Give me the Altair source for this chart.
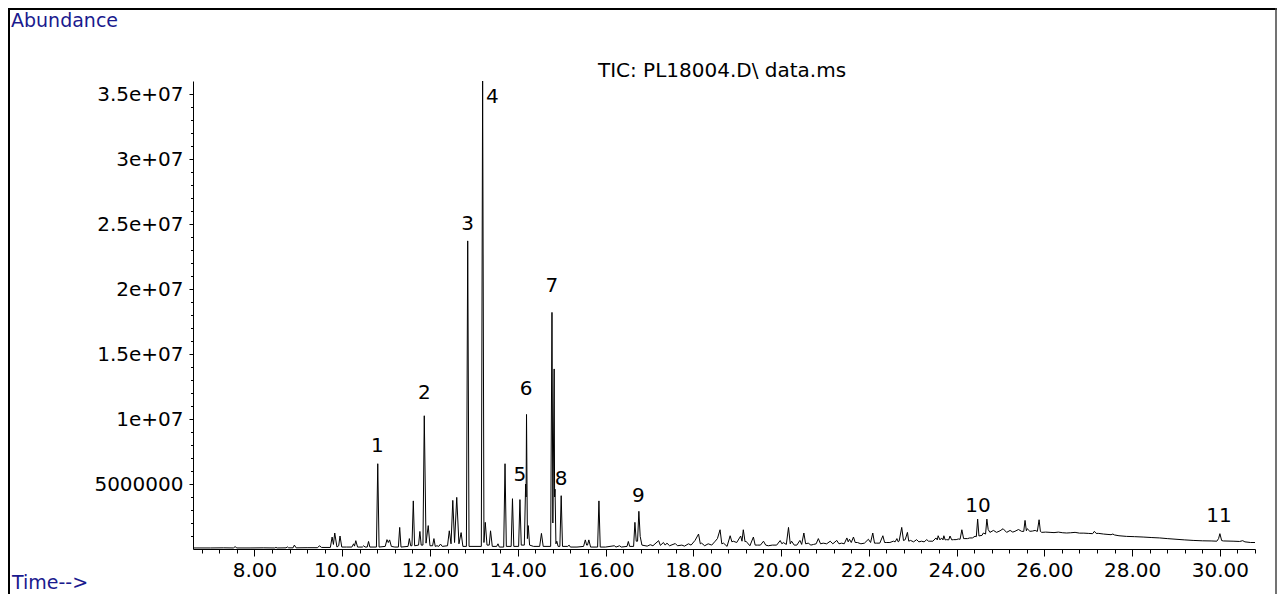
import altair as alt
import pandas as pd

FONT = "DejaVu Sans"
NAVY = "#1a1a8e"

# Retention time (min) and abundance (millions of counts)
time = [
    6.60, 7.00, 7.30, 7.52, 7.56, 7.60, 7.90, 8.20, 8.46, 8.49, 8.52, 8.72, 8.75, 8.78, 8.88, 8.91, 8.95, 9.20, 9.44, 9.48, 9.53, 9.73,
    9.77, 9.80, 9.83, 9.88, 9.92, 9.95, 9.99, 10.10, 10.22, 10.26, 10.28, 10.31, 10.35, 10.46, 10.49, 10.52, 10.57, 10.60, 10.63,
    10.78, 10.81, 10.84, 10.98, 11.02, 11.05, 11.08, 11.12, 11.20, 11.28, 11.31, 11.34, 11.50, 11.53, 11.56, 11.59, 11.62, 11.65,
    11.74, 11.77, 11.80, 11.84, 11.87, 11.91, 11.96, 12.00, 12.06, 12.09, 12.12, 12.16, 12.20, 12.24, 12.28, 12.40, 12.44, 12.48,
    12.52, 12.56, 12.61, 12.66, 12.71, 12.75, 12.83, 12.86, 12.89, 13.17, 13.20, 13.23, 13.26, 13.30, 13.35, 13.38, 13.42, 13.52,
    13.55, 13.58, 13.68, 13.71, 13.74, 13.85, 13.88, 13.91, 14.02, 14.05, 14.08, 14.15, 14.18, 14.19, 14.20, 14.22, 14.24, 14.27,
    14.36, 14.50, 14.54, 14.58, 14.75, 14.78, 14.80, 14.83, 14.84, 14.85, 14.87, 14.89, 14.92, 14.96, 14.99, 15.02, 15.14, 15.17,
    15.20, 15.35, 15.50, 15.54, 15.57, 15.59, 15.62, 15.66, 15.82, 15.85, 15.88, 16.00, 16.20, 16.24, 16.32, 16.36, 16.49, 16.52,
    16.55, 16.64, 16.67, 16.70, 16.73, 16.76, 16.79, 16.83,
    16.95, 17.02, 17.08, 17.21, 17.25, 17.32, 17.36, 17.40, 17.46, 17.59, 17.64, 17.74, 17.80, 17.89, 17.95, 18.04, 18.12, 18.16,
    18.19, 18.26, 18.34, 18.42, 18.50, 18.55, 18.61, 18.65, 18.69, 18.77, 18.84, 18.88, 18.91, 18.99, 19.08, 19.11, 19.14, 19.18,
    19.20, 19.29, 19.37, 19.41, 19.46, 19.53, 19.60, 19.65, 19.71, 19.80, 19.90, 19.98, 20.02, 20.05, 20.12, 20.17, 20.21, 20.24,
    20.30, 20.36, 20.43, 20.47, 20.52, 20.56, 20.62, 20.68, 20.74, 20.80, 20.85, 20.90, 20.96, 21.04, 21.12, 21.18, 21.27, 21.32,
    21.38, 21.44, 21.50, 21.53, 21.56, 21.60, 21.65, 21.69, 21.74, 21.82, 21.90,
    21.99, 22.04, 22.09, 22.13, 22.18, 22.25, 22.32, 22.36, 22.41, 22.48, 22.56, 22.60, 22.64, 22.67, 22.69, 22.75, 22.79, 22.83,
    22.88, 22.91, 22.95, 23.02, 23.09, 23.14, 23.20, 23.26, 23.32, 23.36, 23.39, 23.46, 23.53, 23.56, 23.58, 23.62, 23.66, 23.69,
    23.71, 23.74, 23.77, 23.82, 23.85, 23.89, 23.93, 23.99, 24.04, 24.08, 24.12, 24.16, 24.19, 24.25, 24.30, 24.36, 24.42, 24.45,
    24.48, 24.51, 24.53, 24.58, 24.61, 24.66, 24.69, 24.72, 24.76, 24.84, 24.91, 24.99, 25.06, 25.14, 25.22, 25.28, 25.33, 25.41,
    25.48, 25.53, 25.56, 25.59, 25.61, 25.67, 25.73, 25.79, 25.84, 25.88, 25.91, 25.94, 26.03, 26.13, 26.22, 26.32, 26.42, 26.51,
    26.60, 26.70, 26.80, 26.90, 27.00, 27.10, 27.14, 27.18, 27.24, 27.35, 27.45, 27.52, 27.56, 27.60, 27.70, 27.87, 28.05, 28.25,
    28.45, 28.63, 28.80, 29.00, 29.20, 29.39, 29.60, 29.80, 29.93, 29.97, 30.00, 30.04, 30.08, 30.30, 30.45, 30.52, 30.57, 30.70,
    30.80,
]
abundance_millions = [
    0.08, 0.08, 0.09, 0.08, 0.18, 0.08, 0.08, 0.09, 0.08, 0.12, 0.08, 0.09, 0.16, 0.09, 0.09, 0.30, 0.09, 0.10, 0.10, 0.25, 0.12, 0.12,
    0.92, 0.35, 1.23, 0.15, 0.25, 1.00, 0.15, 0.15, 0.15, 0.40, 0.22, 0.64, 0.15, 0.15, 0.25, 0.15, 0.15, 0.58, 0.15,
    0.15, 6.56, 0.15, 0.20, 0.72, 0.50, 0.70, 0.20, 0.15, 0.15, 1.66, 0.15, 0.20, 0.80, 0.25, 0.25, 3.70, 0.25,
    0.30, 1.35, 0.30, 0.30, 10.25, 0.45, 1.80, 0.25, 0.25, 0.80, 0.20, 0.25, 0.20, 0.38, 0.20, 0.25, 1.40, 0.40,
    3.74, 0.50, 3.97, 0.40, 1.26, 0.20, 0.20, 23.70, 0.20, 0.20, 36.00, 0.50, 2.05, 0.30, 0.30, 1.40, 0.20, 0.20,
    0.40, 0.15, 0.15, 6.56, 0.20, 0.20, 3.87, 0.20, 0.20, 3.80, 0.30, 0.30, 5.00, 4.00, 10.35, 0.80, 1.80, 0.30,
    0.20, 0.20, 1.20, 0.20, 0.20, 18.20, 2.00, 13.85, 4.00, 4.60, 0.40, 0.60, 0.20, 0.20, 4.10, 0.20, 0.20, 0.30,
    0.15, 0.15, 0.20, 0.70, 0.30, 0.30, 0.70, 0.15, 0.15, 3.70, 0.15, 0.15, 0.25, 0.15, 0.25, 0.15, 0.20, 0.58,
    0.20, 0.20, 2.05, 0.60, 0.60, 2.90, 0.97, 0.30,
    0.22, 0.33, 0.25, 0.64, 0.28, 0.50, 0.30, 0.45, 0.25, 0.42, 0.25, 0.30, 0.22, 0.40, 0.30, 0.66, 1.15, 0.40,
    0.45, 0.25, 0.40, 0.30, 0.60, 0.80, 1.48, 0.40, 0.45, 0.20, 1.02, 0.55, 0.60, 0.50, 1.00, 0.60, 1.48, 0.55,
    0.60, 0.25, 0.92, 0.30, 0.30, 0.30, 0.60, 0.30, 0.25, 0.30, 0.30, 0.65, 0.40, 0.50, 0.35, 1.66, 0.40, 0.60,
    0.30, 0.30, 0.66, 0.35, 1.23, 0.40, 0.45, 0.30, 0.35, 0.40, 0.80, 0.40, 0.45, 0.40, 0.60, 0.40, 0.66, 0.40,
    0.45, 0.40, 0.85, 0.55, 0.75, 0.50, 0.92, 0.50, 0.50, 0.40, 0.45,
    0.75, 0.50, 1.23, 0.45, 0.45, 0.45, 1.02, 0.50, 0.50, 0.50, 0.60, 0.55, 0.80, 0.55, 0.60, 1.66, 0.65, 0.72,
    1.28, 0.60, 0.66, 0.55, 0.72, 0.55, 0.60, 0.55, 0.72, 0.60, 0.60, 0.60, 0.85, 0.70, 1.02, 0.70, 0.85, 0.70,
    1.02, 0.70, 0.72, 0.70, 1.00, 0.70, 0.72, 0.72, 0.77, 0.75, 1.48, 0.80, 0.80, 0.80, 0.85, 0.85, 0.98, 0.95,
    2.30, 1.00, 1.02, 1.05, 1.23, 1.15, 2.30, 1.50, 1.28, 1.43, 1.28, 1.40, 1.56, 1.28, 1.43, 1.30, 1.36, 1.50,
    1.36, 1.35, 2.20, 1.40, 1.56, 1.36, 1.38, 1.43, 1.35, 2.25, 1.35, 1.28, 1.30, 1.28, 1.26, 1.30, 1.25, 1.23,
    1.25, 1.28, 1.22, 1.22, 1.20, 1.18, 1.36, 1.20, 1.20, 1.15, 1.12, 1.10, 1.15, 1.08, 1.02, 0.97, 0.95, 0.92,
    0.88, 0.85, 0.80, 0.75, 0.70, 0.66, 0.63, 0.62, 0.60, 0.80, 1.18, 0.65, 0.62, 0.60, 0.58, 0.64, 0.55, 0.50,
    0.50,
]

peak_labels = ["1", "2", "3", "4", "5", "6", "7", "8", "9", "10", "11"]
peak_label_time = [10.80, 11.87, 12.86, 13.42, 14.05, 14.19, 14.78, 14.99, 16.75, 24.49, 29.98]
peak_label_abundance_millions = [7.89, 12.00, 25.00, 34.80, 5.72, 12.31, 20.20, 5.38, 4.05, 3.28, 2.51]

x_major = [8, 10, 12, 14, 16, 18, 20, 22, 24, 26, 28, 30]
x_minor = [round(6.8 + 0.4 * i, 1) for i in range(61)]
y_major = [5000000, 10000000, 15000000, 20000000, 25000000, 30000000, 35000000]
y_major_labels = ["5000000", "1e+07", "1.5e+07", "2e+07", "2.5e+07", "3e+07", "3.5e+07"]
y_minor = [1000000 * i for i in range(1, 36)]

title_text = "TIC: PL18004.D\\ data.ms"
y_label_text = "Abundance"
x_label_text = "Time-->"

W, H = 1062, 468
PAD = {"left": 185, "top": 73, "right": 22, "bottom": 45}

df = pd.DataFrame({"time": time, "abundance": [v * 1e6 for v in abundance_millions]})
labels_df = pd.DataFrame({
    "label": peak_labels,
    "time": peak_label_time,
    "abundance": [v * 1e6 for v in peak_label_abundance_millions],
})
one = pd.DataFrame({"k": [0]})

x_scale = alt.Scale(domain=[6.6, 30.8], nice=False, zero=False)
y_scale = alt.Scale(domain=[0, 36000000], nice=False, zero=False)

label_expr = ""
for v, lab in zip(y_major, y_major_labels):
    label_expr += f"datum.value == {v} ? '{lab}' : "
label_expr += "''"

line = alt.Chart(df).mark_line(color="black", strokeWidth=1).encode(
    x=alt.X("time:Q", scale=x_scale, axis=alt.Axis(
        values=x_major, format=".2f", orient="bottom", title=None, grid=False,
        tickSize=7, tickColor="black", domainColor="black", domainWidth=1, tickWidth=1,
        labelFont=FONT, labelFontSize=20, labelColor="black", labelPadding=4,
        labelFlush=False, labelOverlap=False)),
    y=alt.Y("abundance:Q", scale=y_scale, axis=alt.Axis(
        values=y_major, labelExpr=label_expr, orient="left", title=None, grid=False,
        tickSize=4, tickColor="black", domainColor="black", domainWidth=1, tickWidth=1,
        labelFont=FONT, labelFontSize=20, labelColor="black", labelPadding=6,
        labelFlush=False, labelOverlap=False)),
)

minor = alt.Chart(df).mark_line(opacity=0).encode(
    x=alt.X("time:Q", scale=x_scale, axis=alt.Axis(
        values=x_minor, labels=False, domain=False, orient="bottom", title=None, grid=False,
        tickSize=4, tickColor="black", tickWidth=1)),
    y=alt.Y("abundance:Q", scale=y_scale, axis=alt.Axis(
        values=y_minor, labels=False, domain=False, orient="left", title=None, grid=False,
        tickSize=2.5, tickColor="black", tickWidth=1)),
)

peak_text = alt.Chart(labels_df).mark_text(
    font=FONT, fontSize=20, color="black", align="center", baseline="middle"
).encode(
    x=alt.X("time:Q", scale=x_scale, axis=None),
    y=alt.Y("abundance:Q", scale=y_scale, axis=None),
    text="label:N",
)

left_edge = -PAD["left"]
top_edge = -PAD["top"]
right_edge = W + PAD["right"]
bottom_edge = H + PAD["bottom"]

border_left = alt.Chart(one).mark_rule(color="black", strokeWidth=2).encode(
    x=alt.value(left_edge + 1), y=alt.value(top_edge), y2=alt.value(bottom_edge))
border_top = alt.Chart(one).mark_rule(color="black", strokeWidth=2).encode(
    x=alt.value(left_edge), x2=alt.value(right_edge), y=alt.value(top_edge + 1))
border_right = alt.Chart(one).mark_rule(color="#444444", strokeWidth=1.5).encode(
    x=alt.value(right_edge - 1), y=alt.value(top_edge), y2=alt.value(bottom_edge))

ylab = alt.Chart(one).mark_text(
    text=y_label_text, font=FONT, fontSize=19, color=NAVY, align="left", baseline="middle"
).encode(x=alt.value(left_edge + 3), y=alt.value(top_edge + 13))

xlab = alt.Chart(one).mark_text(
    text=x_label_text, font=FONT, fontSize=19, color=NAVY, align="left", baseline="middle"
).encode(x=alt.value(left_edge + 4), y=alt.value(H + 34))

title = alt.Chart(one).mark_text(
    text=title_text, font=FONT, fontSize=20, color="black", align="center", baseline="middle"
).encode(x=alt.value(529), y=alt.value(-10))

chart = alt.layer(
    line, minor, peak_text, border_left, border_top, border_right, ylab, xlab, title
).resolve_axis(
    x="independent", y="independent"
).properties(
    width=W, height=H, padding=PAD, autosize=alt.AutoSizeParams(type="none")
).configure_view(strokeWidth=0)

chart.save("out.html", embed_options={"renderer": "svg", "actions": False})
